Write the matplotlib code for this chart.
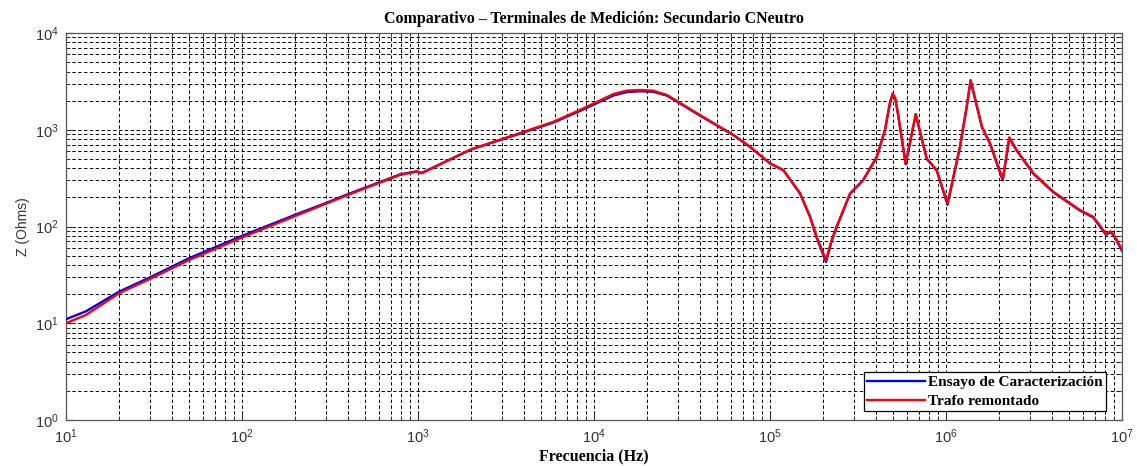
import matplotlib

matplotlib.use("Agg")
import matplotlib.pyplot as plt
from matplotlib.ticker import LogLocator, NullFormatter

# frequency points (Hz)
FREQ = [10, 13, 20, 30, 50, 100, 200, 300, 400, 790, 980, 1050, 2000, 4000,
        5900, 8300, 1.29e4, 1.53e4, 1.82e4, 2.17e4, 2.6e4, 4.0e4, 6.2e4, 7.7e4,
        1.0e5, 1.19e5, 1.48e5, 1.69e5, 1.84e5, 2.08e5, 2.24e5, 2.39e5, 2.85e5,
        3.38e5, 4.04e5, 4.5e5, 4.81e5, 4.98e5, 5.15e5, 5.33e5, 5.9e5, 6.73e5,
        7.77e5, 8.85e5, 1.02e6, 1.2e6, 1.31e6, 1.38e6, 1.44e6, 1.6e6, 1.78e6,
        2.1e6, 2.29e6, 2.52e6, 3.14e6, 4.07e6, 5.77e6, 6.87e6, 8.11e6, 8.63e6,
        9.12e6, 1e7]

Z_ENSAYO = [11.0, 13.3, 21.2, 29.8, 47, 80, 132, 175, 216, 345, 372, 358, 625,
            940, 1190, 1560, 2260, 2450, 2500, 2470, 2250, 1400, 880, 665, 448,
            382, 220, 125, 77, 43, 71, 98, 218, 300, 520, 990, 1900, 2330, 2080,
            1470, 440, 1430, 500, 380, 168, 660, 1700, 3200, 2330, 1060, 715,
            300, 820, 610, 350, 226, 146, 124, 82, 88, 77, 56]
Z_TRAFO = [10.0, 12.2, 20.4, 28.7, 45, 77, 128, 172, 212, 341, 369, 355, 628,
           955, 1211, 1600, 2340, 2535, 2576, 2535, 2286, 1420, 883, 668, 450,
           384, 222, 126, 78.5, 45, 72.5, 99.5, 220, 302, 527, 994, 1950, 2380,
           2113, 1490, 450, 1455, 507, 384, 174, 668, 1730, 3270, 2380, 1076,
           724, 308, 836, 617, 355, 229, 148, 126, 84, 89, 78.5, 58]

SERIF = ["Liberation Serif", "DejaVu Serif"]
SANS = ["Liberation Sans", "DejaVu Sans"]

plt.rcParams["mathtext.fontset"] = "custom"
plt.rcParams["mathtext.rm"] = "Liberation Sans"
plt.rcParams["mathtext.it"] = "Liberation Sans"

fig = plt.figure(figsize=(11.37, 4.66), dpi=100)
ax = fig.add_axes([66 / 1137, 46 / 466, 1056 / 1137, 387 / 466])

ax.loglog(FREQ, Z_ENSAYO, color="#0000ff", lw=1.7, label="Ensayo de Caracterización", zorder=3)
ax.loglog(FREQ, Z_TRAFO, color="#ff0000", lw=1.7, label="Trafo remontado", zorder=4)

ax.set_xlim(10, 1e7)
ax.set_ylim(1, 1e4)
ax.xaxis.set_major_locator(LogLocator(base=10, numticks=20))
ax.xaxis.set_minor_locator(LogLocator(base=10, subs=range(2, 10), numticks=100))
ax.yaxis.set_major_locator(LogLocator(base=10, numticks=20))
ax.yaxis.set_minor_locator(LogLocator(base=10, subs=range(2, 10), numticks=100))
ax.xaxis.set_minor_formatter(NullFormatter())
ax.yaxis.set_minor_formatter(NullFormatter())

ax.grid(True, which="both", color="black", lw=0.7, ls=(0, (3.5, 2.5)), zorder=1)
ax.tick_params(which="both", direction="in", top=True, right=True, colors="#333333")
ax.tick_params(which="major", length=5, labelsize=10.5, pad=5)
ax.tick_params(which="minor", length=3)
for spine in ax.spines.values():
    spine.set_color("#555555")
    spine.set_linewidth(0.9)
for lbl in ax.get_xticklabels() + ax.get_yticklabels():
    lbl.set_family(SANS)

ax.set_title("Comparativo – Terminales de Medición: Secundario CNeutro",
             family=SERIF, fontweight="bold", fontsize=11.5, pad=7)
ax.set_xlabel("Frecuencia (Hz)", family=SERIF, fontweight="bold", fontsize=11.5, labelpad=2)
ax.set_ylabel("Z (Ohms)", family=SANS, fontsize=10, color="#333333", labelpad=4)

leg = ax.legend(loc="lower right", bbox_to_anchor=(0.985, 0.023), frameon=True,
                fancybox=False, edgecolor="black", framealpha=1,
                prop={"family": SERIF, "weight": "bold", "size": 11},
                handlelength=3.8, borderpad=0.2, labelspacing=0.35, handletextpad=0.2,
                borderaxespad=0)
leg.get_frame().set_linewidth(0.9)

fig.savefig("out.png", dpi=100)
